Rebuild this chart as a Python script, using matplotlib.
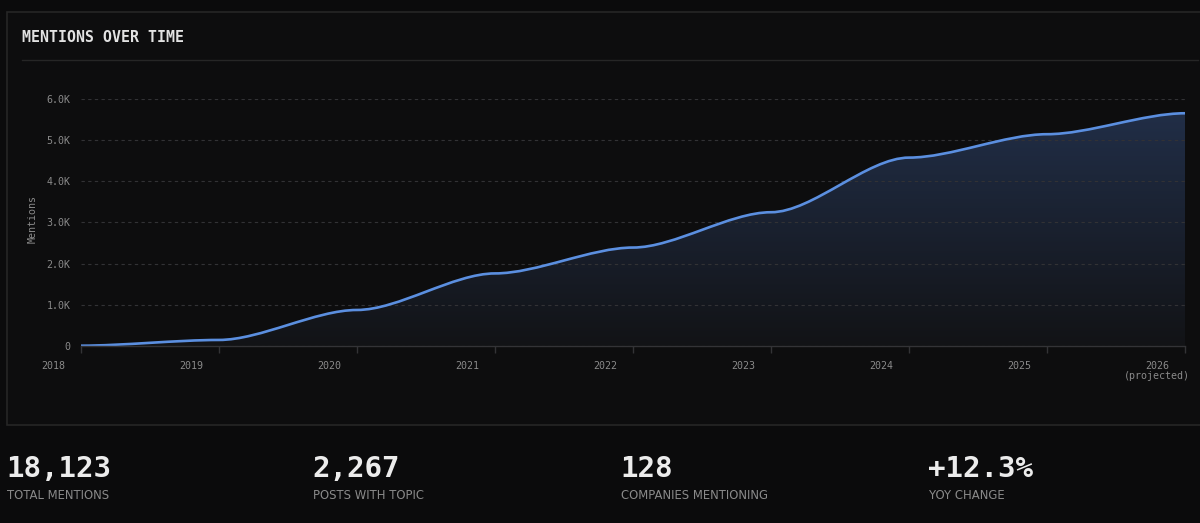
import matplotlib
matplotlib.use("Agg")
import matplotlib.pyplot as plt
import matplotlib.transforms as mtransforms
from matplotlib.path import Path
from matplotlib.patches import PathPatch, Rectangle
from matplotlib.lines import Line2D
import numpy as np

# ---- data ----
years = ["2018", "2019", "2020", "2021", "2022", "2023", "2024", "2025", "2026\n(projected)"]
mentions = [0, 140, 870, 1760, 2390, 3250, 4580, 5150, 5660]
y_ticks = [0, 1000, 2000, 3000, 4000, 5000, 6000]
y_tick_labels = ["0", "1.0K", "2.0K", "3.0K", "4.0K", "5.0K", "6.0K"]
stat_values = ["18,123", "2,267", "128", "+12.3%"]
stat_labels = ["TOTAL MENTIONS", "POSTS WITH TOPIC", "COMPANIES MENTIONING", "YOY CHANGE"]

BG = "#0b0b0c"
PANEL = "#0d0d0e"
BORDER = "#262626"
GRID = "#323235"
TXT = "#8a8a8a"
LINE = "#5b8fe0"
MONO = "DejaVu Sans Mono"

fig = plt.figure(figsize=(12, 5.23), dpi=100, facecolor=BG)
W, H = 1200, 523

def fx(px):
    return px / W

def fy(py):
    return 1 - py / H

# panel
fig.patches.append(Rectangle((fx(7), fy(425)), fx(1210 - 7), fy(12) - fy(425),
                             transform=fig.transFigure, facecolor=PANEL,
                             edgecolor=BORDER, linewidth=1.2, zorder=-10))
fig.lines.append(Line2D([fx(22), fx(1198)], [fy(60), fy(60)], transform=fig.transFigure,
                        color=BORDER, linewidth=1.0, zorder=-9))
fig.text(fx(22), fy(38), "MENTIONS OVER TIME", family=MONO, fontsize=10.7,
         fontweight="bold", color="#e2e2e2", va="center", ha="left")

# axes
ax = fig.add_axes([fx(81), fy(345.7), fx(1185 - 81), fy(99.3) - fy(345.7)], zorder=5)
ax.set_facecolor("none")
x = np.arange(len(mentions))

# smooth curve with flat tangents at each point
a = 0.3
verts = [(x[0], mentions[0])]
codes = [Path.MOVETO]
for i in range(len(x) - 1):
    dx = x[i + 1] - x[i]
    verts += [(x[i] + a * dx, mentions[i]), (x[i + 1] - a * dx, mentions[i + 1]),
              (x[i + 1], mentions[i + 1])]
    codes += [Path.CURVE4] * 3
line_path = Path(verts, codes)
fill_path = Path(verts + [(x[-1], 0), (x[0], 0), (x[0], mentions[0])],
                 codes + [Path.LINETO, Path.LINETO, Path.CLOSEPOLY])

fill_patch = PathPatch(fill_path, facecolor="none", edgecolor="none")
ax.add_patch(fill_patch)
grad = np.linspace(1, 0, 256).reshape(-1, 1)
c_top = np.array([0x21, 0x2e, 0x47]) / 255
c_bot = np.array([0x12, 0x13, 0x16]) / 255
img = c_bot + (c_top - c_bot) * grad[..., None]
im = ax.imshow(img, extent=[x[0], x[-1], 0, max(mentions)], aspect="auto",
               origin="upper", zorder=1, interpolation="bilinear")
im.set_clip_path(fill_patch)
ax.set_xlim(0, len(mentions) - 1)
ax.set_ylim(0, 6000)

ax.add_patch(PathPatch(line_path, facecolor="none", edgecolor=LINE, linewidth=1.9,
                       zorder=3, capstyle="round"))

# grid
ax.set_yticks(y_ticks)
ax.set_yticklabels(y_tick_labels)
ax.yaxis.grid(True, color=GRID, linestyle=(0, (3, 3)), linewidth=0.8, zorder=2)
ax.set_axisbelow(False)
for s in ["top", "right", "left"]:
    ax.spines[s].set_visible(False)
ax.spines["bottom"].set_color("#333336")
ax.spines["bottom"].set_linewidth(1.0)
ax.spines["bottom"].set_zorder(4)

ax.set_xticks(x)
ax.set_xticklabels(years)
ax.tick_params(axis="x", length=5, color="#333336", width=1.0, pad=6,
               labelsize=7.2, labelcolor=TXT)
ax.tick_params(axis="y", length=0, pad=7.4, labelsize=7.2, labelcolor=TXT)
for lab in ax.get_xticklabels() + ax.get_yticklabels():
    lab.set_family(MONO)
for lab in ax.get_xticklabels():
    lab.set_linespacing(0.95)
    lab.set_transform(lab.get_transform() +
                      mtransforms.ScaledTranslation(-28 / 100, 0, fig.dpi_scale_trans))

fig.text(fx(33), fy(219), "Mentions", rotation=90, family=MONO, fontsize=7.2,
         color=TXT, ha="center", va="center")

# stats
xs = [7, 313, 621, 929]
for px, v, l in zip(xs, stat_values, stat_labels):
    fig.text(fx(px - 1), fy(477), v, family=MONO, fontsize=21, fontweight="bold",
             color="#ececec", ha="left", va="baseline")
    fig.text(fx(px), fy(499), l, family="DejaVu Sans", fontsize=8.4,
             color=TXT, ha="left", va="baseline")

fig.savefig("out.png", dpi=100, facecolor=BG)
